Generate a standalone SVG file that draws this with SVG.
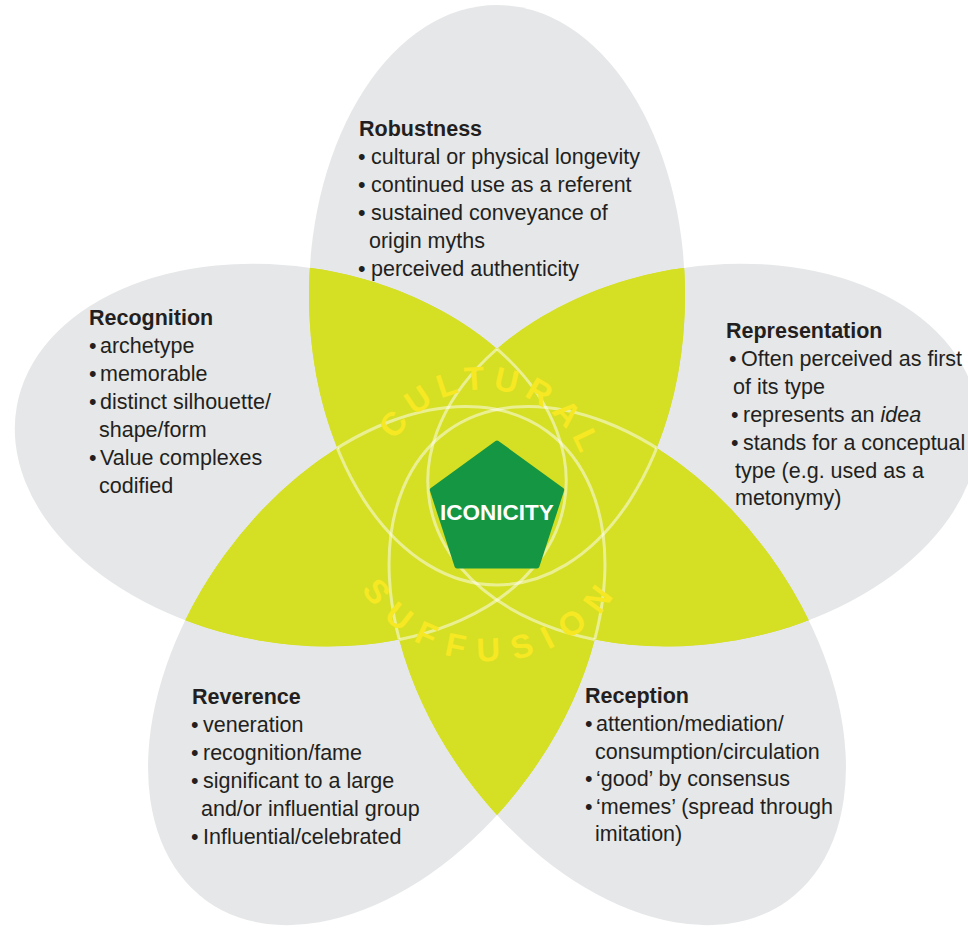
<svg xmlns="http://www.w3.org/2000/svg" xmlns:xlink="http://www.w3.org/1999/xlink" width="968" height="933" viewBox="0 0 968 933">
  <style>
    .t { font-family: "Liberation Sans", Arial, sans-serif; font-size: 21.5px; fill: #231f20; }
    .h { font-family: "Liberation Sans", Arial, sans-serif; font-size: 21.5px; font-weight: bold; fill: #231f20; }
    .arc { font-family: "Liberation Sans", Arial, sans-serif; font-size: 33px; font-weight: bold; fill: #f6e823; }
    .core { font-family: "Liberation Sans", Arial, sans-serif; font-size: 22.5px; font-weight: bold; fill: #ffffff; }
  </style>
  <defs>
    <!-- the five petals -->
    <ellipse id="e0" cx="497" cy="295" rx="188" ry="290"/>
    <ellipse id="e1" rx="278" ry="188" transform="translate(703.5 455) rotate(-10)"/>
    <ellipse id="e2" rx="188" ry="290" transform="translate(617.5 665.8) rotate(-36)"/>
    <ellipse id="e3" rx="188" ry="290" transform="translate(376.5 665.8) rotate(36)"/>
    <ellipse id="e4" rx="278" ry="188" transform="translate(290.5 455) rotate(10)"/>

    <!-- single petal clips -->
    <clipPath id="c0"><use href="#e0"/></clipPath>
    <clipPath id="c1"><use href="#e1"/></clipPath>
    <clipPath id="c2"><use href="#e2"/></clipPath>
    <clipPath id="c3"><use href="#e3"/></clipPath>
    <clipPath id="c4"><use href="#e4"/></clipPath>

    <!-- union of all other petals -->
    <clipPath id="o0"><use href="#e1"/><use href="#e2"/><use href="#e3"/><use href="#e4"/></clipPath>
    <clipPath id="o1"><use href="#e0"/><use href="#e2"/><use href="#e3"/><use href="#e4"/></clipPath>
    <clipPath id="o2"><use href="#e0"/><use href="#e1"/><use href="#e3"/><use href="#e4"/></clipPath>
    <clipPath id="o3"><use href="#e0"/><use href="#e1"/><use href="#e2"/><use href="#e4"/></clipPath>
    <clipPath id="o4"><use href="#e0"/><use href="#e1"/><use href="#e2"/><use href="#e3"/></clipPath>

    <!-- area covered by at least two of the other petals: where a petal outline runs inside the green -->
    <mask id="m0" maskUnits="userSpaceOnUse" x="0" y="0" width="968" height="933"><g fill="#fff">
      <use href="#e1" clip-path="url(#c2)"/><use href="#e1" clip-path="url(#c3)"/><use href="#e1" clip-path="url(#c4)"/>
      <use href="#e2" clip-path="url(#c3)"/><use href="#e2" clip-path="url(#c4)"/><use href="#e3" clip-path="url(#c4)"/>
    </g></mask>
    <mask id="m1" maskUnits="userSpaceOnUse" x="0" y="0" width="968" height="933"><g fill="#fff">
      <use href="#e0" clip-path="url(#c2)"/><use href="#e0" clip-path="url(#c3)"/><use href="#e0" clip-path="url(#c4)"/>
      <use href="#e2" clip-path="url(#c3)"/><use href="#e2" clip-path="url(#c4)"/><use href="#e3" clip-path="url(#c4)"/>
    </g></mask>
    <mask id="m2" maskUnits="userSpaceOnUse" x="0" y="0" width="968" height="933"><g fill="#fff">
      <use href="#e0" clip-path="url(#c1)"/><use href="#e0" clip-path="url(#c3)"/><use href="#e0" clip-path="url(#c4)"/>
      <use href="#e1" clip-path="url(#c3)"/><use href="#e1" clip-path="url(#c4)"/><use href="#e3" clip-path="url(#c4)"/>
    </g></mask>
    <mask id="m3" maskUnits="userSpaceOnUse" x="0" y="0" width="968" height="933"><g fill="#fff">
      <use href="#e0" clip-path="url(#c1)"/><use href="#e0" clip-path="url(#c2)"/><use href="#e0" clip-path="url(#c4)"/>
      <use href="#e1" clip-path="url(#c2)"/><use href="#e1" clip-path="url(#c4)"/><use href="#e2" clip-path="url(#c4)"/>
    </g></mask>
    <mask id="m4" maskUnits="userSpaceOnUse" x="0" y="0" width="968" height="933"><g fill="#fff">
      <use href="#e0" clip-path="url(#c1)"/><use href="#e0" clip-path="url(#c2)"/><use href="#e0" clip-path="url(#c3)"/>
      <use href="#e1" clip-path="url(#c2)"/><use href="#e1" clip-path="url(#c3)"/><use href="#e2" clip-path="url(#c3)"/>
    </g></mask>

    <!-- baselines for the curved captions -->
    <path id="arcTop" d="M 382.6 479.2 A 103 103 0 0 1 587.4 500.8"/>
    <path id="arcBottom" d="M 339 512.6 A 151 151 0 0 0 641 507.4"/>
  </defs>

  <rect width="968" height="933" fill="#ffffff"/>

  <!-- grey petals -->
  <g id="petals" fill="#e6e7e8">
    <use href="#e0"/><use href="#e1"/><use href="#e2"/><use href="#e3"/><use href="#e4"/>
  </g>

  <!-- overlaps of two or more petals -->
  <g id="overlaps" fill="#d5df23">
    <use href="#e0" clip-path="url(#o0)"/>
    <use href="#e1" clip-path="url(#o1)"/>
    <use href="#e2" clip-path="url(#o2)"/>
    <use href="#e3" clip-path="url(#o3)"/>
    <use href="#e4" clip-path="url(#o4)"/>
  </g>

  <!-- pale seams where petal outlines cross the green -->
  <g id="seams" fill="none" stroke="#ffffff" stroke-opacity="0.5" stroke-width="3">
    <use href="#e0" mask="url(#m0)"/>
    <use href="#e1" mask="url(#m1)"/>
    <use href="#e2" mask="url(#m2)"/>
    <use href="#e3" mask="url(#m3)"/>
    <use href="#e4" mask="url(#m4)"/>
  </g>

  <!-- curved captions -->
  <g id="captions">
    <text class="arc" letter-spacing="7.5"><textPath href="#arcTop" startOffset="50%" text-anchor="middle">CULTURAL</textPath></text>
    <text class="arc" letter-spacing="13.5"><textPath href="#arcBottom" startOffset="50%" text-anchor="middle">SUFFUSION</textPath></text>
  </g>

  <!-- centre -->
  <g id="node-iconicity">
    <path d="M497 443 L561.7 490 L537 566 L457 566 L432.3 490 Z" fill="#159643" stroke="#159643" stroke-width="5" stroke-linejoin="round"/>
    <text class="core" x="497" y="520" text-anchor="middle">ICONICITY</text>
  </g>

  <g id="node-robustness">
    <text class="h" x="359" y="136">Robustness</text>
    <text class="t" x="358" y="164">•<tspan x="371">cultural or physical longevity</tspan></text>
    <text class="t" x="358" y="192">•<tspan x="371">continued use as a referent</tspan></text>
    <text class="t" x="358" y="220">•<tspan x="371">sustained conveyance of</tspan></text>
    <text class="t" x="369" y="248">origin myths</text>
    <text class="t" x="358" y="276">•<tspan x="371">perceived authenticity</tspan></text>
  </g>

  <g id="node-recognition">
    <text class="h" x="89" y="325">Recognition</text>
    <text class="t" x="89" y="353">•<tspan x="100">archetype</tspan></text>
    <text class="t" x="89" y="381">•<tspan x="100">memorable</tspan></text>
    <text class="t" x="89" y="409">•<tspan x="100">distinct silhouette/</tspan></text>
    <text class="t" x="99" y="437">shape/form</text>
    <text class="t" x="89" y="465">•<tspan x="100">Value complexes</tspan></text>
    <text class="t" x="99" y="493">codified</text>
  </g>

  <g id="node-representation">
    <text class="h" x="726" y="338">Representation</text>
    <text class="t" x="729" y="366">•<tspan x="741">Often perceived as first</tspan></text>
    <text class="t" x="733" y="394">of its type</text>
    <text class="t" x="731" y="422">•<tspan x="743">represents an <tspan font-style="italic">idea</tspan></tspan></text>
    <text class="t" x="731" y="450">•<tspan x="743">stands for a conceptual</tspan></text>
    <text class="t" x="735" y="478">type (e.g. used as a</text>
    <text class="t" x="735" y="505">metonymy)</text>
  </g>

  <g id="node-reverence">
    <text class="h" x="192" y="704">Reverence</text>
    <text class="t" x="191" y="732">•<tspan x="203">veneration</tspan></text>
    <text class="t" x="191" y="760">•<tspan x="203">recognition/fame</tspan></text>
    <text class="t" x="191" y="788">•<tspan x="203">significant to a large</tspan></text>
    <text class="t" x="201" y="816">and/or influential group</text>
    <text class="t" x="191" y="844">•<tspan x="203">Influential/celebrated</tspan></text>
  </g>

  <g id="node-reception">
    <text class="h" x="585" y="703">Reception</text>
    <text class="t" x="585" y="731">•<tspan x="596">attention/mediation/</tspan></text>
    <text class="t" x="595" y="759">consumption/circulation</text>
    <text class="t" x="585" y="786">•<tspan x="596">‘good’ by consensus</tspan></text>
    <text class="t" x="585" y="814">•<tspan x="596">‘memes’ (spread through</tspan></text>
    <text class="t" x="595" y="841">imitation)</text>
  </g>
</svg>
